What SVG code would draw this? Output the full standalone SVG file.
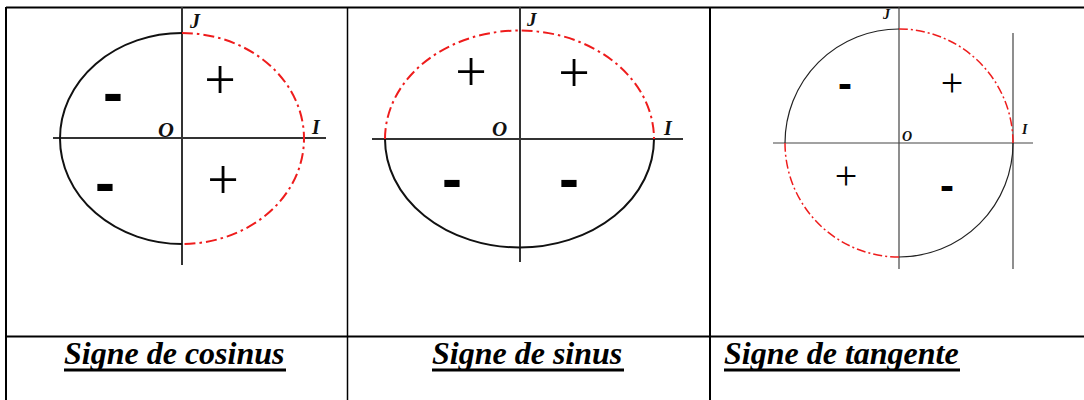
<svg xmlns="http://www.w3.org/2000/svg" width="1084" height="400" viewBox="0 0 1084 400">
<style>
.bg{fill:#fff}
.grid{stroke:#000;fill:none}
.ax{stroke:#333;stroke-width:2;fill:none}
.ax3{stroke:#444;stroke-width:1.2;fill:none}
.arc{stroke:#111;stroke-width:2;fill:none}
.arc3{stroke:#222;stroke-width:1.2;fill:none}
.red{stroke:#ee1c1c;stroke-width:2;fill:none;stroke-dasharray:11 4 2.5 4}
.red3{stroke:#ee1c1c;stroke-width:1.5;fill:none;stroke-dasharray:9 3 2 3}
.lab{font-family:"Liberation Serif",serif;font-style:italic;font-weight:bold;fill:#111}
.plus{font-family:"Liberation Serif",serif;fill:#000;text-anchor:middle}
.minus{font-family:"Liberation Sans",sans-serif;font-weight:bold;fill:#000;text-anchor:middle}
.title{font-family:"Liberation Serif",serif;font-style:italic;font-weight:bold;font-size:32px;fill:#000}
.ul{stroke:#000;stroke-width:3}
</style>
<rect class="bg" x="0" y="0" width="1084" height="400"/>
<g id="table">
<line class="grid" x1="6" y1="7.5" x2="1084" y2="7.5" stroke-width="2"/>
<line class="grid" x1="6" y1="7" x2="6" y2="400" stroke-width="2"/>
<line class="grid" x1="347.5" y1="7" x2="347.5" y2="400" stroke-width="1.5"/>
<line class="grid" x1="710" y1="7" x2="710" y2="400" stroke-width="2"/>
<line class="grid" x1="6" y1="336.5" x2="1084" y2="336.5" stroke-width="2"/>
</g>
<g id="cosinus">
<line class="ax" x1="182" y1="7" x2="182" y2="265"/>
<line class="ax" x1="53" y1="138" x2="326" y2="138"/>
<path class="arc" d="M182,33 A122,105.5 0 0 0 182,244"/>
<path class="red" d="M182,33 A122,105.5 0 0 1 182,244"/>
<text class="lab" x="190" y="28" font-size="20">J</text>
<text class="lab" x="158" y="137" font-size="22">O</text>
<text class="lab" x="312" y="134" font-size="20">I</text>
<text class="plus" x="220" y="99" font-size="56">+</text>
<text class="plus" x="223" y="199" font-size="56">+</text>
<text class="minus" x="113" y="113" font-size="60">-</text>
<text class="minus" x="105" y="203" font-size="60">-</text>
</g>
<g id="sinus">
<line class="ax" x1="520" y1="7" x2="520" y2="262"/>
<line class="ax" x1="372" y1="139" x2="683" y2="139"/>
<path class="red" d="M385,139 A134.5,108.5 0 0 1 654,139"/>
<path class="arc" d="M385,139 A134.5,108.5 0 0 0 654,139"/>
<text class="lab" x="527" y="26" font-size="19">J</text>
<text class="lab" x="492" y="136" font-size="21">O</text>
<text class="lab" x="664" y="135" font-size="20">I</text>
<text class="plus" x="471" y="91" font-size="56">+</text>
<text class="plus" x="574" y="92" font-size="56">+</text>
<text class="minus" x="452" y="199" font-size="60">-</text>
<text class="minus" x="569" y="199" font-size="60">-</text>
</g>
<g id="tangente">
<line class="ax3" x1="899" y1="7" x2="899" y2="269"/>
<line class="ax3" x1="773" y1="143" x2="1033" y2="143"/>
<line class="ax3" x1="1013" y1="33" x2="1013" y2="269"/>
<path class="arc3" d="M785,143 A114,114 0 0 1 899,29"/>
<path class="red3" d="M899,29 A114,114 0 0 1 1013,143"/>
<path class="arc3" d="M1013,143 A114,114 0 0 1 899,257"/>
<path class="red3" d="M899,257 A114,114 0 0 1 785,143"/>
<text class="lab" x="883" y="19" font-size="14">J</text>
<text class="lab" x="902" y="141" font-size="14">O</text>
<text class="lab" x="1022" y="134" font-size="14">I</text>
<text class="plus" x="952" y="96" font-size="40">+</text>
<text class="plus" x="846" y="189" font-size="40">+</text>
<text class="minus" x="845" y="98" font-size="42">-</text>
<text class="minus" x="947" y="200" font-size="42">-</text>
</g>
<g id="titles">
<text class="title" x="64" y="364">Signe de cosinus</text>
<line class="ul" x1="64" y1="370" x2="286" y2="370"/>
<text class="title" x="432" y="364">Signe de sinus</text>
<line class="ul" x1="432" y1="370" x2="624" y2="370"/>
<text class="title" x="724" y="364">Signe de tangente</text>
<line class="ul" x1="724" y1="370" x2="960" y2="370"/>
</g>
</svg>
